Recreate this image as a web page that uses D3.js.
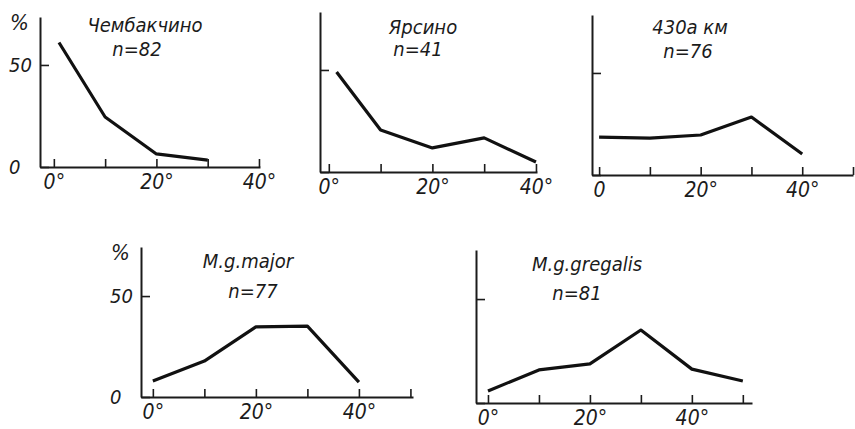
<!DOCTYPE html>
<html>
<head>
<meta charset="utf-8">
<script src="https://cdn.jsdelivr.net/npm/d3@7"></script>
<style>
body { margin: 0; background: #fff; }
text { font-family: "DejaVu Sans Condensed", "Liberation Sans Narrow", sans-serif; font-style: italic; fill: #1b1b1b; }
</style>
</head>
<body>
<script>
// datos (% de individuos por angulo)
var titulos = ["Чембакчино", "Ярсино", "430а км", "M.g.major", "M.g.gregalis"]
var muestras = [82, 41, 76, 77, 81]

var gradosChembakchino = [1, 10, 20, 30]
var valoresChembakchino = [61, 24.5, 6.4, 3.4]
var gradosYarsino = [1.5, 10, 20, 30, 40]
var valoresYarsino = [49, 20.6, 11.8, 16.7, 4.9]
var grados430 = [0, 10, 20, 30, 40]
var valores430 = [18.6, 18.1, 19.6, 28.4, 10.3]
var gradosMajor = [0, 10, 20, 30, 40]
var valoresMajor = [7.9, 17.8, 34.7, 35.1, 7.4]
var gradosGregalis = [0, 10, 20, 30, 40, 50]
var valoresGregalis = [5.8, 15.9, 18.8, 35.1, 16.3, 10.6]

var ticksX = [0, 10, 20, 30, 40, 50]
var etiquetasX = ["0°", "", "20°", "", "40°", ""]
var etiquetasX430 = ["0", "", "20°", "", "40°", ""]
var ticksY = [0, 50]
var etiquetasY = ["0", "50"]

var width = 855
var height = 429

// posicion de cada grafico
var paneles = [
    {i: 0, grados: gradosChembakchino, valores: valoresChembakchino, etiq: etiquetasX, nTicks: 5, ejeY: true,
     xDom: [-2.7, 40.2], xRan: [40, 260], yDom: [0, 73.5], yRan: [167, 17], tx: 145, ty: 25, nx: 137, ny: 47},
    {i: 1, grados: gradosYarsino, valores: valoresYarsino, etiq: etiquetasX, nTicks: 5, ejeY: false,
     xDom: [-1.7, 40.2], xRan: [320, 537], yDom: [0, 78.4], yRan: [172, 12], tx: 423, ty: 27, nx: 418, ny: 47},
    {i: 2, grados: grados430, valores: valores430, etiq: etiquetasX430, nTicks: 6, ejeY: false,
     xDom: [-1.4, 50], xRan: [592, 853], yDom: [0, 78.4], yRan: [175, 15], tx: 690, ty: 27, nx: 688, ny: 49},
    {i: 3, grados: gradosMajor, valores: valoresMajor, etiq: etiquetasX, nTicks: 6, ejeY: true,
     xDom: [-2.3, 50.5], xRan: [141, 413], yDom: [0, 74.3], yRan: [397, 247], tx: 248, ty: 261, nx: 253, ny: 289},
    {i: 4, grados: gradosGregalis, valores: valoresGregalis, etiq: etiquetasX, nTicks: 6, ejeY: false,
     xDom: [-2.35, 51.8], xRan: [476, 752], yDom: [0, 73.6], yRan: [403, 250], tx: 587, ty: 264, nx: 577, ny: 291}
]

var svg = d3.select("body")
    .append("svg")
    .attr("width", width)
    .attr("height", height)

paneles.forEach(function (p) {
    var escalaX = d3.scaleLinear().domain(p.xDom).range(p.xRan)
    var escalaY = d3.scaleLinear().domain(p.yDom).range(p.yRan)

    // eje X con marcas hacia arriba
    var ejeX = d3.axisBottom(escalaX)
        .tickValues(ticksX.slice(0, p.nTicks))
        .tickFormat((d, k) => p.etiq[k])
        .tickSizeInner(-8)
        .tickSizeOuter(0)
        .tickPadding(7)

    var gx = svg.append("g")
        .attr("transform", "translate(0," + p.yRan[0] + ")")
        .call(ejeX)
    gx.select(".domain").attr("stroke", "#1b1b1b").attr("stroke-width", 2)
    gx.selectAll(".tick line").attr("stroke", "#1b1b1b").attr("stroke-width", 1.6)
    gx.selectAll("text").style("font-size", "21px").attr("fill", "#1b1b1b")

    // eje Y
    var ejeY = d3.axisLeft(escalaY)
        .tickValues(ticksY)
        .tickFormat((d, k) => p.ejeY ? etiquetasY[k] : "")
        .tickSizeInner(-9)
        .tickSizeOuter(0)

    var gy = svg.append("g")
        .attr("transform", "translate(" + p.xRan[0] + ",0)")
        .call(ejeY)
    gy.select(".domain").attr("stroke", "#1b1b1b").attr("stroke-width", 2)
    gy.selectAll(".tick line").attr("stroke", "#1b1b1b").attr("stroke-width", 1.6)
    gy.selectAll("text")
        .style("font-size", "20px")
        .attr("fill", "#1b1b1b")
        .attr("text-anchor", "start")
        .attr("x", -31)

    if (p.ejeY) {
        svg.append("text")
            .attr("x", p.xRan[0] - 30)
            .attr("y", p.yRan[1] + 13)
            .style("font-size", "22px")
            .text("%")
    }

    // linea de datos
    var linea = d3.line()
        .x((d, k) => escalaX(p.grados[k]))
        .y(d => escalaY(d))

    svg.append("path")
        .datum(p.valores)
        .attr("d", linea)
        .attr("fill", "none")
        .attr("stroke", "#111")
        .attr("stroke-width", 3.2)
        .attr("stroke-linejoin", "round")

    // titulos
    svg.append("text")
        .attr("x", p.tx)
        .attr("y", p.ty + 7)
        .attr("text-anchor", "middle")
        .style("font-size", "20px")
        .text(titulos[p.i])

    svg.append("text")
        .attr("x", p.nx)
        .attr("y", p.ny + 9)
        .attr("text-anchor", "middle")
        .style("font-size", "20px")
        .text("n=" + muestras[p.i])
})
</script>
</body>
</html>
